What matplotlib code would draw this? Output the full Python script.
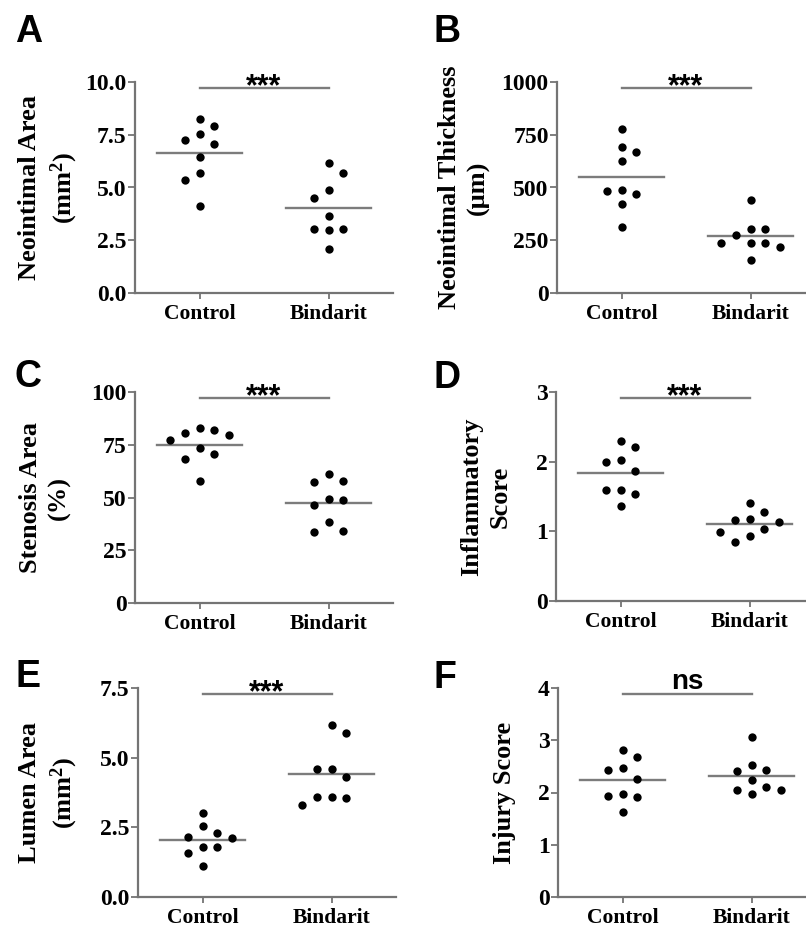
import numpy as np
import matplotlib
matplotlib.use('Agg')
import matplotlib.pyplot as plt

# Values (9 animals per group)
GROUPS = ['Control', 'Bindarit']

neo_area_ctrl = [8.23, 7.91, 7.55, 7.24, 7.08, 6.45, 5.70, 5.37, 4.11]
neo_area_bind = [6.18, 5.70, 4.90, 4.50, 3.65, 3.05, 2.97, 3.05, 2.10]
neo_thick_ctrl = [779, 692, 668, 624, 490, 471, 483, 423, 313]
neo_thick_bind = [442, 276, 305, 305, 239, 239, 239, 218, 155]
stenosis_ctrl = [83.1, 80.6, 82.1, 79.8, 77.1, 73.6, 70.5, 68.4, 57.8]
stenosis_bind = [61.0, 57.3, 57.7, 49.0, 49.4, 46.3, 38.4, 33.6, 34.1]
inflam_ctrl = [2.30, 2.21, 2.02, 1.99, 1.87, 1.60, 1.59, 1.54, 1.36]
inflam_bind = [1.41, 1.28, 1.16, 1.13, 1.17, 0.99, 1.03, 0.93, 0.85]
lumen_ctrl = [3.03, 2.56, 2.17, 2.29, 2.13, 1.79, 1.78, 1.57, 1.10]
lumen_bind = [6.16, 5.87, 4.32, 4.61, 4.61, 3.58, 3.60, 3.54, 3.29]
injury_ctrl = [2.82, 2.67, 2.46, 2.44, 2.26, 1.97, 1.93, 1.91, 1.63]
injury_bind = [3.06, 2.43, 2.41, 2.53, 2.24, 2.05, 1.97, 2.05, 2.10]

# y axis ticks per panel
ticks_area = [0.0, 2.5, 5.0, 7.5, 10.0]
ticks_thick = [0, 250, 500, 750, 1000]
ticks_sten = [0, 25, 50, 75, 100]
ticks_inflam = [0, 1, 2, 3]
ticks_lumen = [0.0, 2.5, 5.0, 7.5]
ticks_injury = [0, 1, 2, 3, 4]

W, H = 806, 930
GRAY = '#747474'
LINE_GRAY = '#7c7c7c'

plt.rcParams['font.family'] = 'Liberation Serif'
plt.rcParams['font.weight'] = 'bold'
plt.rcParams['axes.labelweight'] = 'bold'
plt.rcParams['mathtext.fontset'] = 'custom'
plt.rcParams['mathtext.bf'] = 'Liberation Serif:bold'
plt.rcParams['mathtext.rm'] = 'Liberation Serif:bold'
plt.rcParams['mathtext.default'] = 'bf'


def px_rect(left, top, width, height):
    """Pixel box (from top-left) -> figure fraction rect."""
    return [left / W, 1 - (top + height) / H, width / W, height / H]


def swarm_offsets(ax, values, slot=0.116, min_gap=13):
    """Greedy column-scatter layout: spread points that sit close in y."""
    ys = [ax.transData.transform((0, v))[1] for v in values]
    order = np.argsort(ys)[::-1]
    placed = {}
    offsets = np.zeros(len(values))
    for i in order:
        y = ys[i]
        chosen = None
        for k in range(0, 6):
            if k == 0:
                cands = [0]
            else:
                right = sum(len(placed.get(s, [])) for s in range(1, 6))
                left = sum(len(placed.get(-s, [])) for s in range(1, 6))
                cands = [k, -k] if right <= left else [-k, k]
            for s in cands:
                if all(abs(y - yy) >= min_gap for yy in placed.get(s, [])):
                    chosen = s
                    break
            if chosen is not None:
                break
        placed.setdefault(chosen, []).append(y)
        offsets[i] = chosen * slot
    return offsets


def draw_panel(fig, rect, letter, letter_xy, ctrl, bind, ticks, tick_fmt,
               ylabel, label_dx, sig_text):
    ax = fig.add_axes(rect)
    ymax = ticks[-1]
    ax.set_xlim(-0.5, 1.5)
    ax.set_ylim(0, ymax)

    for xi, vals in enumerate([ctrl, bind]):
        offs = swarm_offsets(ax, vals)
        ax.plot(xi + offs, vals, 'o', color='black', markersize=6.0,
                markeredgewidth=0, clip_on=False, zorder=3)
        m = np.mean(vals)
        ax.plot([xi - 0.33, xi + 0.33], [m, m], color=LINE_GRAY, lw=1.7, zorder=2)

    # significance bar
    ybar = 0.97 * ymax
    ax.plot([0, 1], [ybar, ybar], color=LINE_GRAY, lw=1.7, clip_on=False)
    if sig_text == 'ns':
        ax.annotate(sig_text, (0.5, ybar), xytext=(0, 4), textcoords='offset points',
                    ha='center', va='baseline', fontsize=20,
                    family='Liberation Sans', fontweight='bold',
                    annotation_clip=False)
    else:
        ax.annotate(sig_text, (0.5, ybar), xytext=(0, -5), textcoords='offset points',
                    ha='center', va='baseline', fontsize=22,
                    family='Liberation Sans', fontweight='bold',
                    annotation_clip=False)

    ax.spines['top'].set_visible(False)
    ax.spines['right'].set_visible(False)
    for side in ['left', 'bottom']:
        ax.spines[side].set_color(GRAY)
        ax.spines[side].set_linewidth(1.6)

    ax.set_yticks(ticks)
    ax.set_yticklabels([tick_fmt.format(t) for t in ticks])
    ax.set_xticks([0, 1])
    ax.set_xticklabels(GROUPS)
    ax.tick_params(axis='y', length=5, width=1.3, color=GRAY, pad=1,
                   labelsize=17)
    ax.tick_params(axis='x', length=4, width=1.3, color=GRAY, pad=4,
                   labelsize=15.5)
    ax.set_ylabel(ylabel, fontsize=19, linespacing=1.3, va='center')
    ax.yaxis.set_label_coords(label_dx / (rect[2] * W), 0.5)

    fig.text(letter_xy[0] / W, 1 - letter_xy[1] / H, letter,
             family='Liberation Sans', fontweight='bold', fontsize=27,
             ha='left', va='baseline')
    return ax


def main():
    fig = plt.figure(figsize=(W / 100, H / 100), dpi=100)

    draw_panel(fig, px_rect(135, 82, 258, 211), 'A', (15, 42),
               neo_area_ctrl, neo_area_bind, ticks_area, '{:.1f}',
               'Neointimal Area\n(mm$^{2}$)', -86, '***')
    draw_panel(fig, px_rect(557, 82, 258, 211), 'B', (433, 42),
               neo_thick_ctrl, neo_thick_bind, ticks_thick, '{:d}',
               'Neointimal Thickness\n(\u03bcm)', -93, '***')
    draw_panel(fig, px_rect(135, 392, 258, 211), 'C', (15, 387),
               stenosis_ctrl, stenosis_bind, ticks_sten, '{:d}',
               'Stenosis Area\n(%)', -90, '***')
    draw_panel(fig, px_rect(556, 392, 258, 209), 'D', (433, 388),
               inflam_ctrl, inflam_bind, ticks_inflam, '{:d}',
               'Inflammatory\nScore', -70, '***')
    draw_panel(fig, px_rect(138, 688, 258, 209), 'E', (16, 687),
               lumen_ctrl, lumen_bind, ticks_lumen, '{:.1f}',
               'Lumen Area\n(mm$^{2}$)', -89, '***')
    draw_panel(fig, px_rect(558, 688, 258, 209), 'F', (433, 688),
               injury_ctrl, injury_bind, ticks_injury, '{:d}',
               'Injury Score', -53, 'ns')

    fig.savefig('out.png', dpi=100)
    plt.close(fig)


if __name__ == '__main__':
    main()
